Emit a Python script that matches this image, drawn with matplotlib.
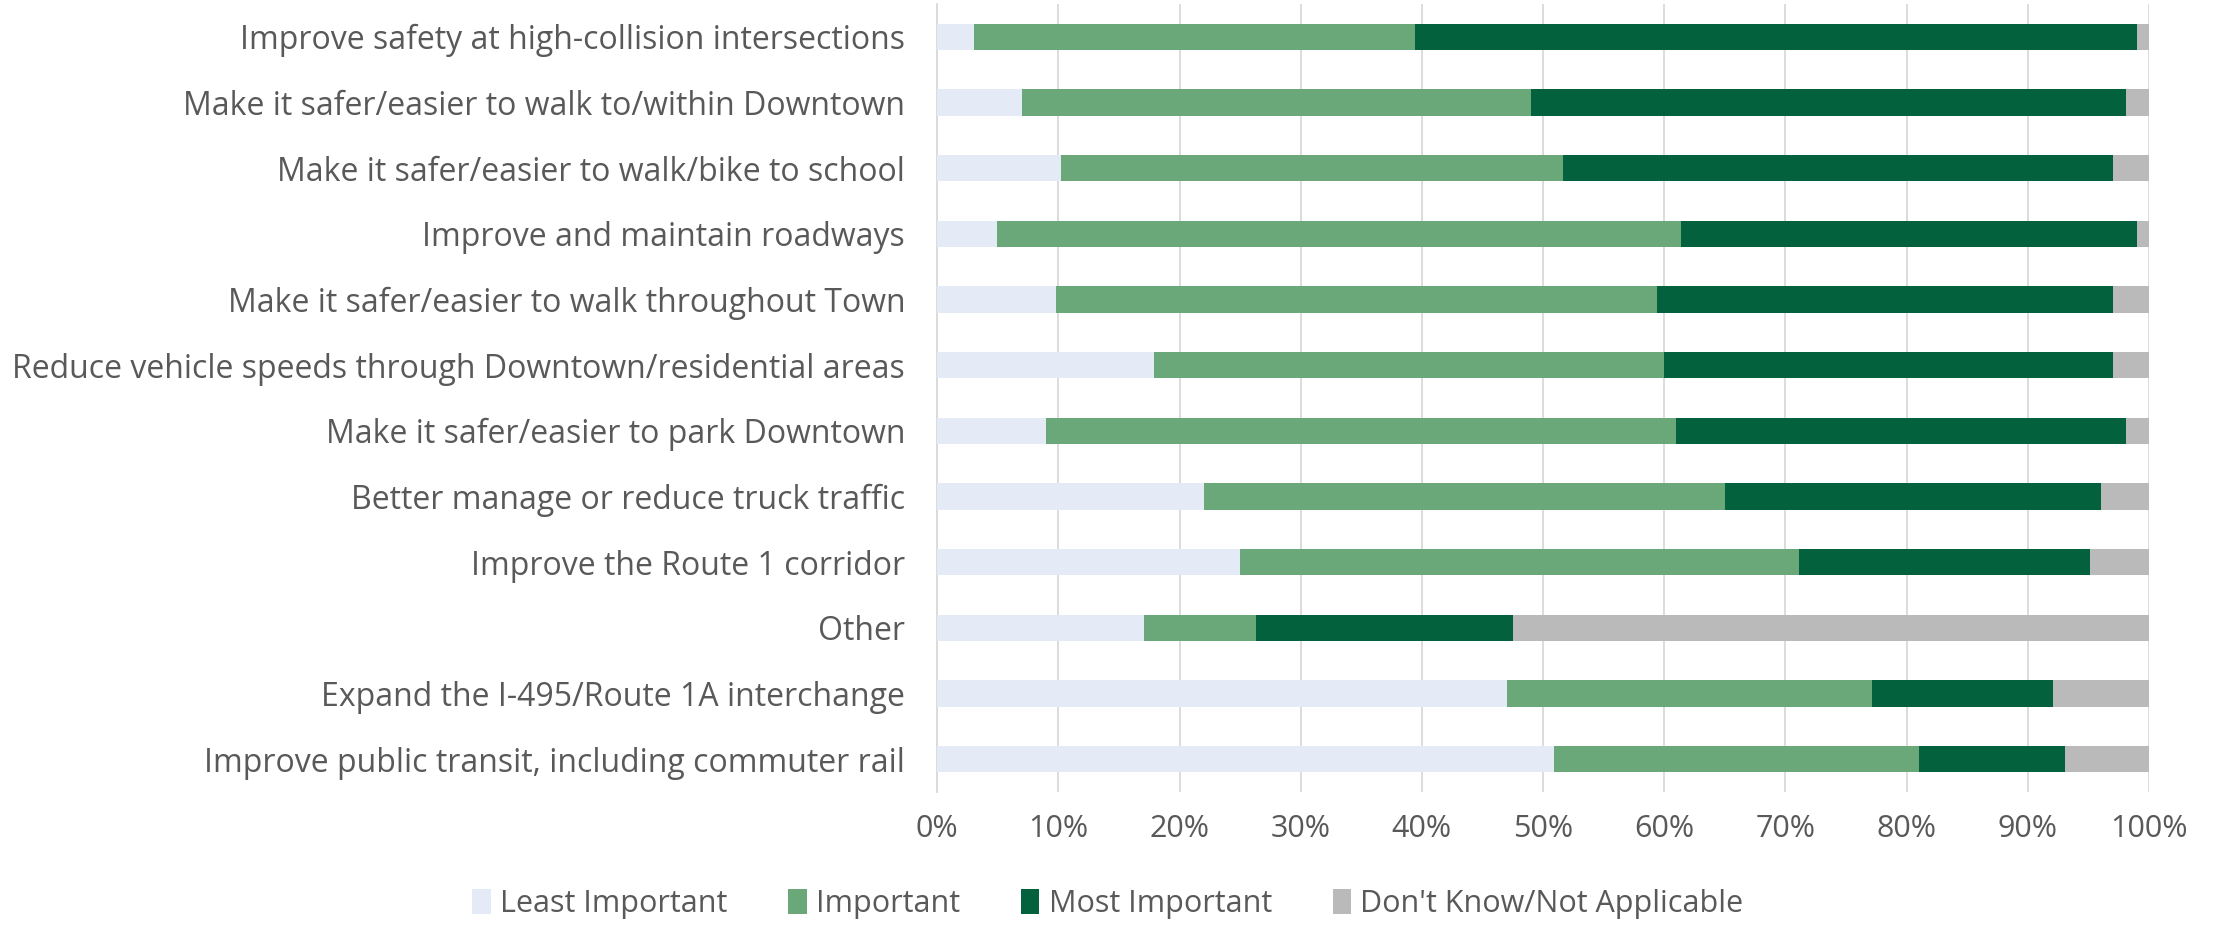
import matplotlib
matplotlib.use('Agg')
import matplotlib.pyplot as plt
from matplotlib.ticker import PercentFormatter
import numpy as np

# Categories, top to bottom
categories = [
    'Improve safety at high-collision intersections',
    'Make it safer/easier to walk to/within Downtown',
    'Make it safer/easier to walk/bike to school',
    'Improve and maintain roadways',
    'Make it safer/easier to walk throughout Town',
    'Reduce vehicle speeds through Downtown/residential areas',
    'Make it safer/easier to park Downtown',
    'Better manage or reduce truck traffic',
    'Improve the Route 1 corridor',
    'Other',
    'Expand the I-495/Route 1A interchange',
    'Improve public transit, including commuter rail',
]

# Shares in percent
least = [3.0, 7.0, 10.2, 4.9, 9.8, 17.9, 9.0, 22.0, 25.0, 17.1, 47.0, 50.9]
important = [36.4, 42.0, 41.4, 56.5, 49.6, 42.1, 52.0, 43.0, 46.1, 9.2, 30.1, 30.1]
most = [59.6, 49.1, 45.4, 37.6, 37.6, 37.0, 37.1, 31.0, 24.0, 21.2, 15.0, 12.1]
dont_know = [1.0, 1.9, 3.0, 1.0, 3.0, 3.0, 1.9, 4.0, 4.9, 52.5, 7.9, 6.9]

series_names = ['Least Important', 'Important', 'Most Important', "Don't Know/Not Applicable"]
colors = ['#E4EBF7', '#6AA87A', '#03623D', '#BABABA']

plt.rcParams['font.family'] = ['Open Sans', 'DejaVu Sans']
text_color = '#595959'

fig = plt.figure(figsize=(22.16, 9.26), dpi=100)
ax = fig.add_axes([0.4229, 0.1447, 0.5469, 0.851])

y = np.arange(len(categories))
left = np.zeros(len(categories))
for name, vals, c in zip(series_names, [least, important, most, dont_know], colors):
    vals = np.array(vals)
    ax.barh(y, vals, left=left, height=0.4, color=c, label=name, zorder=3)
    left = left + vals

ax.set_ylim(len(categories) - 0.5, -0.5)
ax.set_xlim(0, 100)
ax.set_yticks(y)
ax.set_yticklabels(categories, fontsize=23, color=text_color)
ax.set_xticks(np.arange(0, 101, 10))
ax.xaxis.set_major_formatter(PercentFormatter(decimals=0))
ax.tick_params(axis='x', labelsize=22, labelcolor=text_color, length=0, pad=16)
ax.tick_params(axis='y', length=0, pad=23)
ax.xaxis.grid(True, color='#D9D9D9', linewidth=1.3, zorder=0)
for s in ['top', 'right', 'bottom']:
    ax.spines[s].set_visible(False)
ax.spines['left'].set_color('#D9D9D9')
ax.spines['left'].set_linewidth(1.3)

fig.legend(loc='center', bbox_to_anchor=(0.5, 0.024), ncol=4, frameon=False,
           fontsize=22, labelcolor=text_color, handlelength=0.6, handleheight=0.9,
           handletextpad=0.3, columnspacing=2.0)

fig.savefig('out.png', dpi=100)
